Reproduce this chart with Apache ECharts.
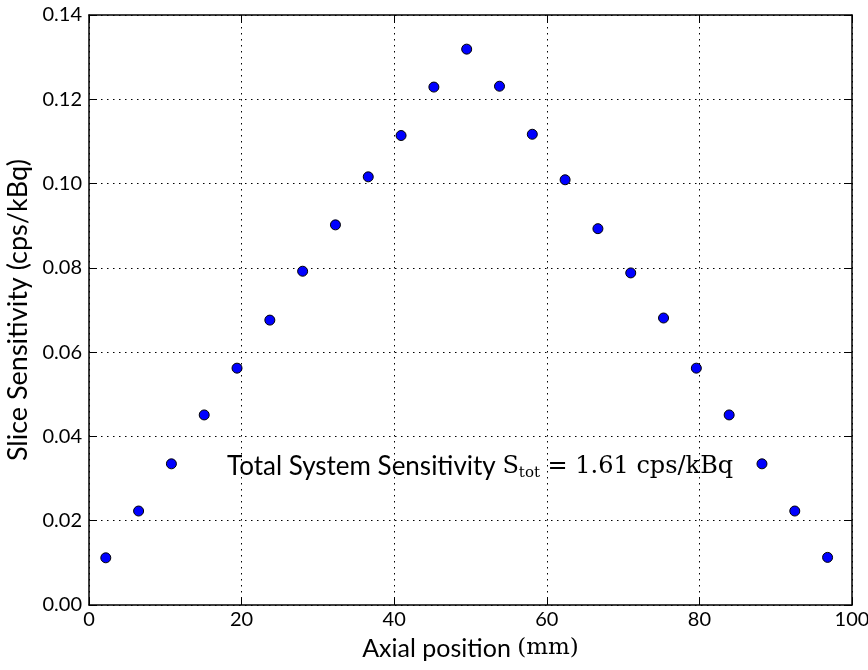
<!DOCTYPE html>
<html>
<head>
<meta charset="utf-8">
<script src="https://cdn.jsdelivr.net/npm/echarts@6/dist/echarts.min.js"></script>
<style>
  html, body { margin: 0; padding: 0; background: #fff; }
  #chart { width: 868px; height: 670px; }
</style>
</head>
<body>
<div id="chart"></div>
<script>
// axial positions (mm) and slice sensitivities (cps/kBq)
const positions = [2.2, 6.5, 10.8, 15.1, 19.4, 23.7, 28.0, 32.3, 36.6, 40.9, 45.2, 49.5,
                   53.8, 58.1, 62.4, 66.7, 71.0, 75.3, 79.6, 83.9, 88.2, 92.5, 96.8]
const sensitivity = [0.0112, 0.0223, 0.0335, 0.0451, 0.0562, 0.0676, 0.0792, 0.0902, 0.1016,
                     0.1114, 0.1229, 0.1319, 0.1231, 0.1117, 0.1009, 0.0893, 0.0788, 0.0681,
                     0.0562, 0.0451, 0.0335, 0.0223, 0.0113]
const xTicks = [0, 20, 40, 60, 80, 100]
const yTicks = [0.00, 0.02, 0.04, 0.06, 0.08, 0.10, 0.12, 0.14]

let pts = []
for (let i = 0; i < positions.length; i++) {
  pts.push([positions[i], sensitivity[i]])
}

const font = 'Lato'
const serif = 'DejaVu Serif'
const axisLine = { show: true, onZero: false, lineStyle: { color: '#000', width: 1.5 } }
const tick = { show: true, inside: true, length: 8, lineStyle: { color: '#000', width: 1 } }
const grid = { show: true, lineStyle: { color: '#000', width: 1, type: [1.5, 4.5] } }

let myChart = echarts.init(document.getElementById('chart'), null, { renderer: 'canvas' })

myChart.setOption({
  animation: false,
  grid: { left: 89, right: 16, top: 15, bottom: 65, outerBoundsMode: 'none', containLabel: false },
  xAxis: [
    {
      type: 'value', min: xTicks[0], max: xTicks[xTicks.length - 1], interval: 20,
      name: '{a|Axial position }{m|(mm)}', nameLocation: 'middle', nameGap: 31,
      nameTextStyle: {
        rich: {
          a: { fontFamily: font, fontSize: 25, color: '#000' },
          m: { fontFamily: serif, fontSize: 23, color: '#000' }
        }
      },
      axisLine: axisLine, axisTick: tick, splitLine: grid,
      axisLabel: { fontFamily: font, fontSize: 20, color: '#000', margin: 5 }
    },
    {
      type: 'value', min: xTicks[0], max: xTicks[xTicks.length - 1], interval: 20, position: 'top',
      axisLine: axisLine, axisTick: tick, splitLine: { show: false },
      axisLabel: { show: false }
    }
  ],
  yAxis: [
    {
      type: 'value', min: yTicks[0], max: yTicks[yTicks.length - 1], interval: 0.02,
      name: 'Slice Sensitivity (cps/kBq)', nameLocation: 'middle', nameGap: 56,
      nameTextStyle: { fontFamily: font, fontSize: 27, color: '#000' },
      axisLine: axisLine, axisTick: tick, splitLine: grid,
      axisLabel: {
        fontFamily: font, fontSize: 20, color: '#000', margin: 7,
        formatter: v => v.toFixed(2)
      }
    },
    {
      type: 'value', min: yTicks[0], max: yTicks[yTicks.length - 1], interval: 0.02, position: 'right',
      axisLine: axisLine, axisTick: tick, splitLine: { show: false },
      axisLabel: { show: false }
    }
  ],
  graphic: [
    {
      type: 'text', left: 227, top: 454, z: 10,
      style: {
        text: '{a|Total System Sensitivity }{s|S}{sub|tot}{m| = 1.61 cps/kBq}',
        rich: {
          a: { fontFamily: font, fontSize: 26, fill: '#000' },
          s: { fontFamily: serif, fontSize: 24, fill: '#000' },
          sub: { fontFamily: serif, fontSize: 15, fill: '#000', padding: [12, 0, 0, 0] },
          m: { fontFamily: serif, fontSize: 24, fill: '#000' }
        }
      }
    }
  ],
  series: [
    {
      type: 'scatter',
      data: pts,
      symbol: 'circle',
      symbolSize: 10,
      itemStyle: { color: '#0000ff', borderColor: '#000', borderWidth: 1, opacity: 1 }
    }
  ]
})
</script>
</body>
</html>
